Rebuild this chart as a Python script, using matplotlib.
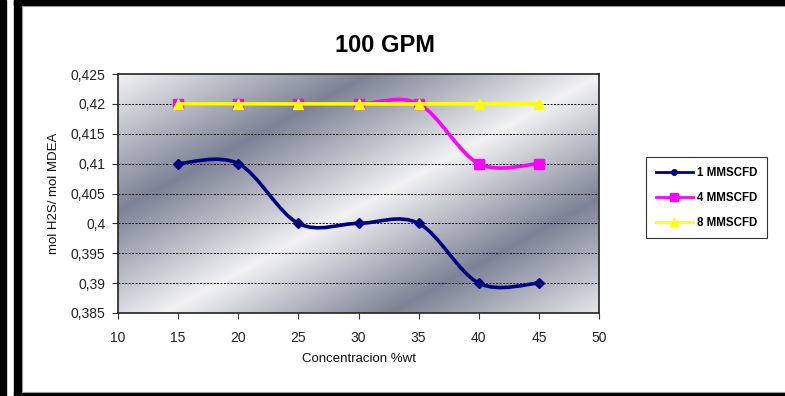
import numpy as np
import matplotlib
matplotlib.use("Agg")
import matplotlib.pyplot as plt
from matplotlib.path import Path
from matplotlib.patches import PathPatch, Rectangle
from matplotlib.lines import Line2D
from matplotlib.colors import LinearSegmentedColormap

plt.rcParams['font.family'] = ['Liberation Sans', 'DejaVu Sans']

# ===================== 数据 =====================
concentracion = [15, 20, 25, 30, 35, 40, 45]
serie_1 = [0.41, 0.41, 0.40, 0.40, 0.40, 0.39, 0.39]
serie_4 = [0.42, 0.42, 0.42, 0.42, 0.42, 0.41, 0.41]
serie_8 = [0.42, 0.42, 0.42, 0.42, 0.42, 0.42, 0.42]
nombres = ['1 MMSCFD', '4 MMSCFD', '8 MMSCFD']

y_ticks = [0.385, 0.39, 0.395, 0.40, 0.405, 0.41, 0.415, 0.42, 0.425]
y_labels = ['0,385', '0,39', '0,395', '0,4', '0,405', '0,41', '0,415', '0,42', '0,425']
x_ticks = [10, 15, 20, 25, 30, 35, 40, 45, 50]


def smooth_path(xs, ys):
    # curva suavizada tipo Excel (Catmull-Rom -> Bezier)
    pts = np.column_stack([xs, ys]).astype(float)
    n = len(pts)
    verts = [pts[0]]
    codes = [Path.MOVETO]
    for i in range(n - 1):
        p0 = pts[i - 1] if i > 0 else pts[i]
        p1 = pts[i]
        p2 = pts[i + 1]
        p3 = pts[i + 2] if i + 2 < n else pts[i + 1]
        verts += [p1 + (p2 - p0) / 6, p2 - (p3 - p1) / 6, p2]
        codes += [Path.CURVE4] * 3
    return Path(verts, codes)


fig = plt.figure(figsize=(7.85, 3.96), dpi=100)
fig.patch.set_facecolor('white')

# marco negro exterior
fig.patches.append(Rectangle((0, 0), 6 / 785, 1, transform=fig.transFigure,
                             color='black', zorder=0))
fig.patches.append(Rectangle((14 / 785, 0), 7 / 785, 1, transform=fig.transFigure,
                             color='black', zorder=0))
fig.patches.append(Rectangle((14 / 785, 391 / 396), 1, 5 / 396, transform=fig.transFigure,
                             color='black', zorder=0))
fig.patches.append(Rectangle((14 / 785, 0), 1, 3 / 396, transform=fig.transFigure,
                             color='black', zorder=0))
fig.patches.append(Rectangle((22 / 785, 4 / 396), 1, 386 / 396, transform=fig.transFigure,
                             fill=False, edgecolor='#999999', lw=0.8, zorder=0))

ax = fig.add_axes([118 / 785, 83 / 396, 481 / 785, 239 / 396])

# fondo degradado diagonal
W, H = 481, 239
xx, yy = np.meshgrid(np.arange(W), np.arange(H))
u = 0.48 * xx + 0.88 * yy
grad = np.interp(u, [0, 120, 232, 340, 441], [0.0, 1.0, 0.0, 1.0, 0.1])
cmap = LinearSegmentedColormap.from_list('fondo', ['#f2f2f3', '#7d8396'])
ax.imshow(grad, cmap=cmap, vmin=0, vmax=1, extent=[0, 1, 0, 1], transform=ax.transAxes,
          aspect='auto', zorder=0, interpolation='bilinear')

ax.set_xlim(10, 50)
ax.set_ylim(0.385, 0.425)
ax.set_yticks(y_ticks)
ax.set_yticklabels(y_labels)
ax.set_xticks(x_ticks)
ax.tick_params(axis='both', direction='out', length=4, width=0.8, color='#333333',
               labelsize=10, labelcolor='#222222')
ax.tick_params(axis='x', pad=9)
ax.tick_params(axis='y', pad=5)
for sp in ax.spines.values():
    sp.set_color('#222222')
    sp.set_linewidth(1.2)

for yv in y_ticks[1:-1]:
    ax.axhline(yv, color='black', lw=0.7, ls=(0, (2, 1.5)), zorder=1)

estilos = [
    (serie_1, '#000080', 'D', 5, 1),
    (serie_4, '#ff00ff', 's', 7.5, 2),
    (serie_8, '#ffff00', '^', 7, 3),
]
handles = []
for (ys, col, mk, ms, z), nom in zip(estilos, nombres):
    ax.add_patch(PathPatch(smooth_path(concentracion, ys), fill=False, edgecolor=col,
                           lw=2.6, zorder=2 + z, capstyle='round', joinstyle='round'))
    ax.plot(concentracion, ys, ls='none', marker=mk, ms=ms, color=col,
            markeredgecolor=col, zorder=2.5 + z)
    handles.append(Line2D([], [], color=col, lw=2, marker='o' if mk == 'D' else mk,
                          ms=4 if mk == 'D' else 5.5, markeredgecolor=col))

ax.set_title('100 GPM', fontsize=17, fontweight='bold', pad=16, x=0.555)
ax.set_xlabel('Concentracion %wt', fontsize=9.5, labelpad=6, color='#111111')
ax.set_ylabel('mol H2S/ mol MDEA', fontsize=9.5, labelpad=8, color='#111111')

leg = ax.legend(handles, nombres, loc='upper left', bbox_to_anchor=(646 / 785, 239 / 396),
                bbox_transform=fig.transFigure, borderaxespad=0,
                prop={'weight': 'bold', 'size': 8.3}, frameon=True, fancybox=False,
                edgecolor='black', handlelength=3.2, handletextpad=0.4,
                labelspacing=1.12, borderpad=0.85)
leg.get_frame().set_linewidth(0.8)

fig.savefig('out.png', dpi=100, facecolor='white')
